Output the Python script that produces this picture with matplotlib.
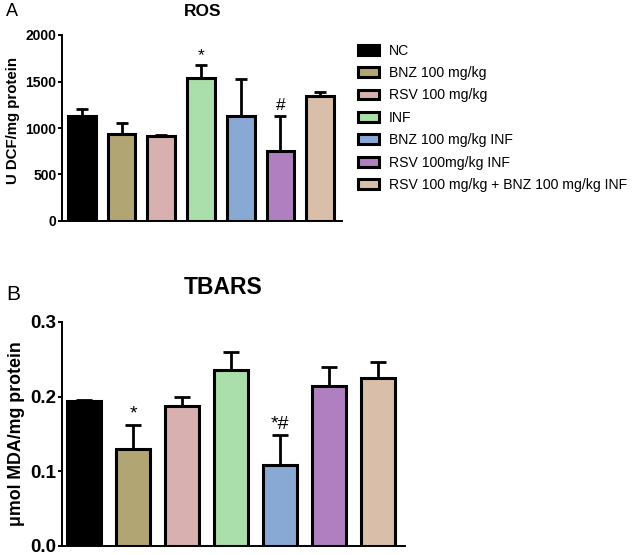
import numpy as np
import matplotlib.pyplot as plt

plt.rcParams['font.family'] = ['Liberation Sans', 'DejaVu Sans']

groups = ['NC', 'BNZ 100 mg/kg', 'RSV 100 mg/kg', 'INF', 'BNZ 100 mg/kg INF',
          'RSV 100mg/kg INF', 'RSV 100 mg/kg + BNZ 100 mg/kg INF']
colors = ['#000000', '#b1a673', '#d8b0af', '#aadeaa', '#88a9d4', '#b07fc0', '#d9bfa9']

ros_mean = [1129, 935, 914, 1538, 1129, 756, 1347]
ros_sem = [72, 115, 6, 139, 398, 376, 37]
ros_marks = ['', '', '', '*', '', '#', '']

tbars_mean = [0.194, 0.130, 0.188, 0.236, 0.108, 0.214, 0.225]
tbars_sem = [0.001, 0.032, 0.012, 0.024, 0.040, 0.026, 0.021]
tbars_marks = ['', '*', '', '', '*#', '', '']

fig = plt.figure(figsize=(6.44, 5.55), dpi=100)
W, H = 644, 555

def panel(rect, mean, sem, marks, ylim, yticks, ylabel, fs_tick, fs_lab, fs_mark, capsize, width, xlim):
    x0, y0, x1, y1 = rect
    ax = fig.add_axes([x0 / W, 1 - y1 / H, (x1 - x0) / W, (y1 - y0) / H])
    x = np.arange(len(mean))
    bars = ax.bar(x, mean, width=width, color=colors, edgecolor='black', linewidth=2.2,
                  yerr=[np.zeros(len(sem)), sem], capsize=capsize,
                  error_kw=dict(elinewidth=2.0, capthick=2.0, ecolor='black'), zorder=2)
    ax.set_xlim(*xlim)
    ax.set_ylim(*ylim)
    ax.set_yticks(yticks)
    ax.set_xticks([])
    for s in ['top', 'right']:
        ax.spines[s].set_visible(False)
    for s in ['left', 'bottom']:
        ax.spines[s].set_linewidth(1.4)
    ax.tick_params(axis='y', length=3, width=1.4, labelsize=fs_tick, pad=1)
    for lab in ax.get_yticklabels():
        lab.set_fontweight('bold')
    ax.set_ylabel(ylabel, fontsize=fs_lab, fontweight='bold', labelpad=4)
    off = (ylim[1] - ylim[0]) * 0.012
    for xi, m, s, t in zip(x, mean, sem, marks):
        if t:
            ax.text(xi, m + s + off, t, ha='center', va='bottom', fontsize=fs_mark)
    return ax, bars

axA, barsA = panel((62, 35, 342, 221), ros_mean, ros_sem, ros_marks, (0, 2000),
                   [0, 500, 1000, 1500, 2000], 'U DCF/mg protein', 10, 10.8, 12.5, 4, 0.7,
                   (-0.5, 6.55))
axA.yaxis.set_label_coords(-0.15, 0.54)
axB, barsB = panel((62, 322, 405, 546), tbars_mean, tbars_sem, tbars_marks, (0, 0.3),
                   [0.0, 0.1, 0.2, 0.3], 'μmol MDA/mg protein', 13.5, 12.8, 14, 5.5, 0.71,
                   (-0.45, 6.55))
axB.yaxis.set_major_formatter(plt.FormatStrFormatter('%.1f'))

fig.text(203 / W, 1 - 11 / H, 'ROS', fontsize=12.5, fontweight='bold', ha='center', va='center')
fig.text(223 / W, 1 - 287 / H, 'TBARS', fontsize=16.5, fontweight='bold', ha='center', va='center')
fig.text(6 / W, 1 - 12 / H, 'A', fontsize=13, va='center', ha='left')
fig.text(6 / W, 1 - 295 / H, 'B', fontsize=15, va='center', ha='left')

leg = fig.legend(barsA.patches, groups, loc='upper left', bbox_to_anchor=(352 / W, 1 - 38 / H),
                 frameon=False, fontsize=10.1, handlelength=1.5, handleheight=0.7,
                 labelspacing=0.6, handletextpad=0.75, borderaxespad=0)

fig.savefig('out.png', dpi=100)
